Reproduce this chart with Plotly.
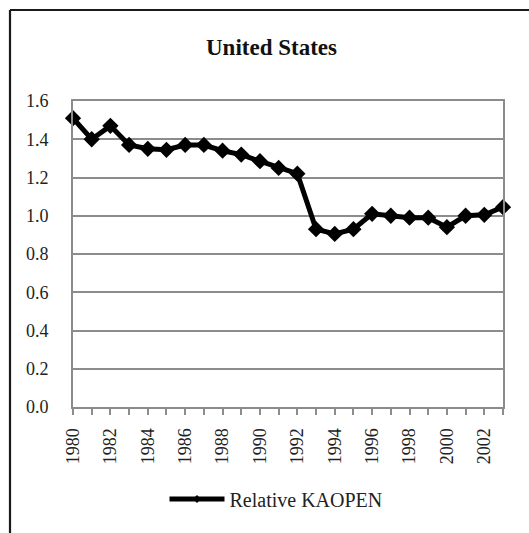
import plotly.graph_objects as go

years = list(range(1980, 2004))
kaopen = [1.51, 1.40, 1.47, 1.37, 1.35, 1.345, 1.37, 1.37, 1.34, 1.32, 1.285, 1.25,
          1.22, 0.93, 0.905, 0.93, 1.01, 1.00, 0.99, 0.99, 0.94, 1.00, 1.005, 1.045]
series_name = "Relative KAOPEN"
title_text = "United States"

W, H = 529, 533
L, R, T, B = 73, 503, 101, 407

fig = go.Figure()
fig.add_trace(go.Scatter(
    x=years, y=kaopen, mode="lines+markers", showlegend=False,
    line=dict(color="black", width=5),
    marker=dict(symbol="diamond", size=12.5, color="black"),
    cliponaxis=False,
))
fig.add_trace(go.Scatter(
    x=[None], y=[None], mode="lines+markers", name=series_name,
    line=dict(color="black", width=5),
    marker=dict(symbol="diamond", size=6, color="black"),
))

grid = "#8c8c8c"
fnt = "Liberation Serif"

fig.update_layout(
    width=W, height=H,
    margin=dict(l=L, r=W - R, t=T, b=H - B, pad=0),
    paper_bgcolor="white", plot_bgcolor="white",
    font=dict(family=fnt, size=18, color="#222222"),
    showlegend=True,
    legend=dict(orientation="h", x=(276 - L) / (R - L), xanchor="center",
                y=(B - 499) / (B - T), yanchor="middle",
                font=dict(size=20, family=fnt, color="#222222"),
                itemwidth=55, bgcolor="rgba(0,0,0,0)"),
    xaxis=dict(
        range=[1980, 2003], tickmode="linear", tick0=1980, dtick=2,
        tickangle=-90, ticks="outside", ticklen=6, tickcolor=grid, tickwidth=1.5,
        ticklabelstandoff=6,
        minor=dict(dtick=1, tick0=1980, ticks="outside", ticklen=6, tickcolor=grid, tickwidth=1.5, showgrid=False),
        showgrid=False, zeroline=False,
        showline=True, linecolor=grid, linewidth=2, mirror=True,
        tickfont=dict(size=18, family=fnt),
    ),
    yaxis=dict(
        range=[0, 1.6], tickmode="linear", tick0=0, dtick=0.2, tickformat=".1f",
        ticks="", ticklabelstandoff=19,
        showgrid=True, gridcolor=grid, gridwidth=1.5, zeroline=False,
        showline=True, linecolor=grid, linewidth=2, mirror=True,
        tickfont=dict(size=18, family=fnt),
    ),
)

fig.add_annotation(text="<b>" + title_text + "</b>", xref="paper", yref="paper",
                   x=(271 - L) / (R - L), y=1 + (T - 48) / (B - T),
                   xanchor="center", yanchor="middle", showarrow=False,
                   font=dict(size=23, family=fnt, color="#111111"))

# outer chart-area border (left and top edges; the rest lies outside the window)
x0 = (10 - L) / (R - L)
y1 = 1 + (T - 10) / (B - T)
x_right = (W + 2 - L) / (R - L)
fig.add_shape(type="line", xref="paper", yref="paper", x0=x0, x1=x0, y0=-0.6, y1=y1,
              line=dict(color="#1a1a1a", width=2.2), layer="below")
fig.add_shape(type="line", xref="paper", yref="paper", x0=x0, x1=x_right, y0=y1, y1=y1,
              line=dict(color="#1a1a1a", width=2.2), layer="below")

fig.write_html("out.html", config={"displayModeBar": False},
               post_script="document.body.style.margin='0';document.body.style.overflow='hidden';")
